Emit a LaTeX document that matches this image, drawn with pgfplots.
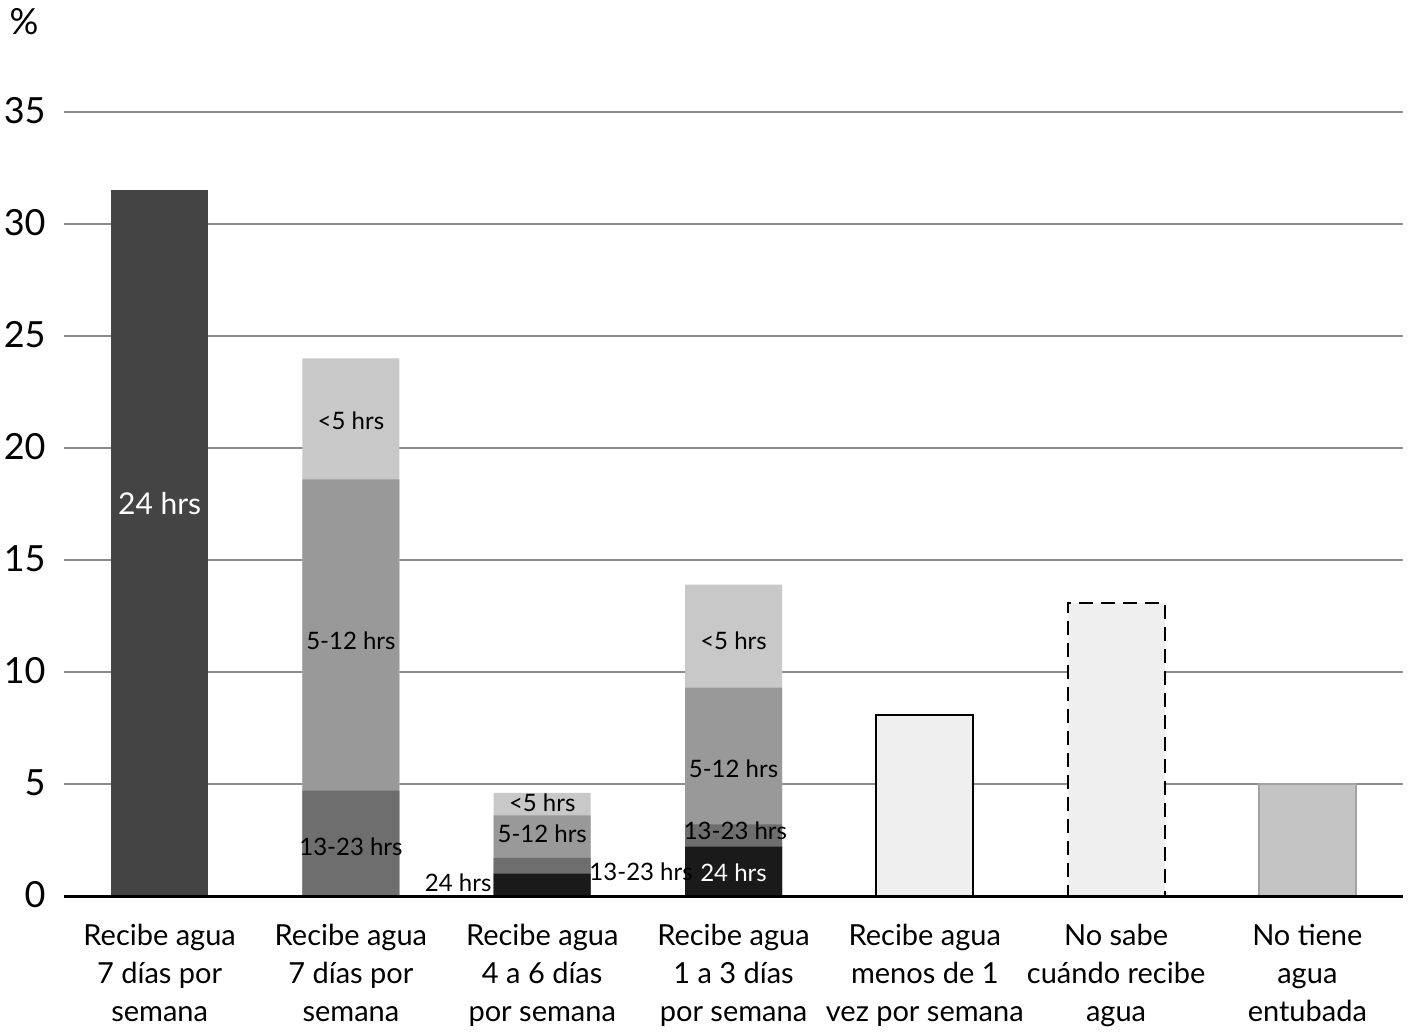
\documentclass[border=0pt]{standalone}
\usepackage{pgfplots}
\pgfplotsset{compat=1.18}
\usepackage{fontspec}
\setmainfont{Lato}
\definecolor{cA}{HTML}{444444}
\definecolor{cB}{HTML}{C8C8C8}
\definecolor{cC}{HTML}{999999}
\definecolor{cD}{HTML}{6E6E6E}
\definecolor{cE}{HTML}{1A1A1A}
\definecolor{cF}{HTML}{EFEFEF}
\definecolor{cG}{HTML}{C4C4C4}
\definecolor{gridc}{HTML}{8C8C8C}
\begin{document}
\begin{tikzpicture}
\begin{axis}[
  name=ax,
  scale only axis,
  width=669.5pt, height=392pt,
  xmin=-0.5, xmax=6.5, ymin=0, ymax=35,
  enlargelimits=false,
  axis x line=bottom, axis y line=left,
  x axis line style={draw=none},
  y axis line style={draw=none},
  axis line style={-},
  ymajorgrids, grid style={gridc, line width=1.4pt},
  ytick={0,5,...,35},
  xtick={0,1,2,3,4,5,6},
  major tick length=0pt,
  /pgf/number format/assume math mode=true,
  yticklabel style={font=\fontsize{18}{22}\selectfont, inner sep=0pt, anchor=east, xshift=-9pt, yshift=0.5pt},
  xticklabel style={font=\fontsize{14.5}{19}\selectfont, align=center, inner sep=0pt, anchor=north, yshift=-14pt},
  xticklabels={{Recibe agua\\7 días por\\semana},{Recibe agua\\7 días por\\semana},{Recibe agua\\4 a 6 días\\por semana},{Recibe agua\\1 a 3 días\\por semana},{Recibe agua\\menos de 1\\vez por semana},{No sabe\\cuándo recibe\\agua},{No tiene\\agua\\entubada}},
  ybar, bar width=48.5pt, bar shift=0pt,
  clip=false,
]
% bar 1: 24 hrs
\addplot[fill=cA, draw=none] coordinates {(0,31.5)};
% stacked bars drawn as cumulative totals, top segment first
% <5 hrs (top of stack)
\addplot[fill=cB, draw=none] coordinates {(1,24.0) (2,4.6) (3,13.9)};
% 5-12 hrs
\addplot[fill=cC, draw=none] coordinates {(1,18.6) (2,3.6) (3,9.3)};
% 13-23 hrs
\addplot[fill=cD, draw=none] coordinates {(1,4.7) (2,1.7) (3,3.2)};
% 24 hrs
\addplot[fill=cE, draw=none] coordinates {(2,1.0) (3,2.2)};
% menos de 1 vez
\addplot[fill=cF, draw=black, line width=1pt] coordinates {(4,8.1)};
% no sabe
\addplot[fill=cF, draw=black, line width=1pt, dash pattern=on 7pt off 4pt] coordinates {(5,13.1)};
% no tiene agua entubada
\addplot[fill=cG, draw=gridc!80, line width=0.8pt] coordinates {(6,5.0)};
% baseline
\addplot[sharp plot, black, line width=1.5pt] coordinates {(-0.5,0) (6.5,0)};

\node[white, font=\fontsize{15}{18}\selectfont] at (axis cs:0,17.5) {24 hrs};
\begin{scope}[font=\fontsize{12}{14}\selectfont]
\node at (axis cs:1,21.2) {<5 hrs};
\node at (axis cs:1,11.4) {5-12 hrs};
\node at (axis cs:1,2.2) {13-23 hrs};
\node at (axis cs:2,4.15) {<5 hrs};
\node at (axis cs:2,2.8) {5-12 hrs};
\node[anchor=east, inner sep=1pt] at (axis cs:1.747,0.6) {24 hrs};
\node[anchor=west, inner sep=0pt] at (axis cs:2.245,1.1) {13-23 hrs};
\node at (axis cs:3,11.4) {<5 hrs};
\node at (axis cs:3,5.7) {5-12 hrs};
\node at (axis cs:3.01,2.9) {13-23 hrs};
\node[white] at (axis cs:3,1.05) {24 hrs};
\end{scope}
\node[font=\fontsize{18}{22}\selectfont] at (axis cs:-0.5,35) [xshift=-20pt, yshift=45pt] {\%};
\end{axis}
\pgfresetboundingbox
\path (ax.south west) +(-32pt,-69pt);
\path (ax.north east) +(3.5pt,56pt);
\end{tikzpicture}
\end{document}
